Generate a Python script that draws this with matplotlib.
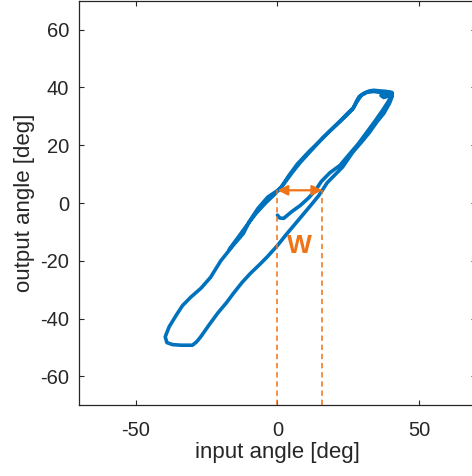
import matplotlib.pyplot as plt

# measured hysteresis loop (input vs output angle, deg)
input_angle = [0.0, 0.8, 2.2, 5.0, 8.1, 11.0, 13.4, 15.5, 18.5, 22.0, 25.0, 28.5, 31.5, 34.5, 37.0, 39.0, 40.2,
               40.5, 39.0, 37.5, 36.5, 37.5, 39.0, 38.5, 36.0, 34.0, 32.5, 30.5, 28.8,
               28.0, 26.8, 24.5, 22.0, 18.5, 15.0, 11.3, 7.0, 4.0, 1.0, -3.5, -7.0, -10.0, -12.0, -15.5, -20.0,
               -23.6, -27.0, -30.6, -33.5, -35.5, -38.2, -39.6, -39.0, -37.0, -34.0, -30.0, -28.5,
               -27.0, -24.0, -21.0, -18.0, -15.5, -12.5, -9.5, -6.0, -3.5, 0.0, 3.0, 6.0, 9.0, 12.0, 14.5, 15.8,
               17.5, 20.0, 23.0, 26.5, 30.0, 32.5, 35.0, 37.5, 39.5, 40.5, 40.3, 38.5, 36.0, 34.0, 31.5, 29.5,
               28.0, 26.5, 24.0, 20.0, 16.0, 12.0, 8.0, 5.0, 2.0, -1.0, -4.0, -7.5, -11.0, -14.0, -17.0]
output_angle = [-4.2, -5.2, -5.3, -3.0, -0.8, 1.8, 4.4, 7.5, 10.5, 13.0, 16.5, 20.5, 24.5, 28.5, 32.0, 35.0, 37.2,
                38.0, 38.3, 37.8, 37.2, 36.5, 37.0, 38.6, 38.8, 39.0, 38.8, 38.0, 36.8,
                35.5, 33.0, 30.8, 28.3, 25.0, 21.5, 18.0, 13.5, 9.5, 5.0, 2.0, -2.0, -6.5, -10.5, -14.5, -20.0,
                -25.7, -29.5, -32.6, -35.5, -38.5, -42.8, -46.3, -48.3, -49.0, -49.2, -49.2, -48.0,
                -46.2, -42.0, -38.0, -34.5, -31.2, -27.5, -24.3, -21.0, -18.5, -14.7, -11.0, -7.5, -4.0, -0.5, 2.5, 4.4,
                7.0, 9.5, 12.5, 17.5, 21.5, 24.5, 28.0, 31.0, 34.5, 37.0, 38.3, 38.5, 38.3, 38.6, 38.3, 37.2,
                35.0, 32.5, 30.0, 26.3, 22.6, 18.3, 14.0, 10.3, 6.3, 3.0, 0.2, -3.5, -8.0, -12.0, -16.0]

# width W of the loop at output angle ~ 4 deg
w_left = 0.0
w_right = 15.8
w_level = 4.4

x_ticks = [-50, 0, 50]
y_ticks = [-60, -40, -20, 0, 20, 40, 60]

blue = '#0072BD'
orange = '#EF7317'
dark = '#262626'

plt.rcParams['font.family'] = ['Liberation Sans', 'DejaVu Sans']
plt.rcParams['axes.unicode_minus'] = False

fig = plt.figure(figsize=(4.72, 4.76), dpi=100)
ax = fig.add_axes([0.1674, 0.1485, 0.841, 0.85])

ax.plot(input_angle, output_angle, color=blue, lw=2.6, solid_joinstyle='round', solid_capstyle='round')

# dashed guides + double arrow for W
for xv in [w_left, w_right]:
    ax.plot([xv, xv], [-70, w_level], color=orange, lw=1.1, ls=(0, (3.5, 2.5)))
ax.annotate('', xy=(w_right, w_level), xytext=(w_left, w_level),
            arrowprops=dict(arrowstyle='<|-|>', color=orange, lw=1.6,
                            mutation_scale=15, shrinkA=0, shrinkB=0))
ax.text((w_left + w_right) / 2, -15, 'W', color=orange, fontsize=19, fontweight='bold',
        ha='center', va='center')

ax.set_xlim(-70, 70)
ax.set_ylim(-70, 70)
ax.set_xticks(x_ticks)
ax.set_yticks(y_ticks)
ax.tick_params(direction='in', length=3.6, width=0.8, color=dark, labelcolor=dark,
               labelsize=14.5, top=True, right=True)
ax.tick_params(axis='x', pad=11)
ax.tick_params(axis='y', pad=7)
for s in ax.spines.values():
    s.set_color(dark)
    s.set_linewidth(0.9)

ax.set_xlabel('input angle [deg]', fontsize=16, color=dark, labelpad=2)
ax.set_ylabel('output angle [deg]', fontsize=16, color=dark, labelpad=4)

fig.savefig('out.png', dpi=100)
